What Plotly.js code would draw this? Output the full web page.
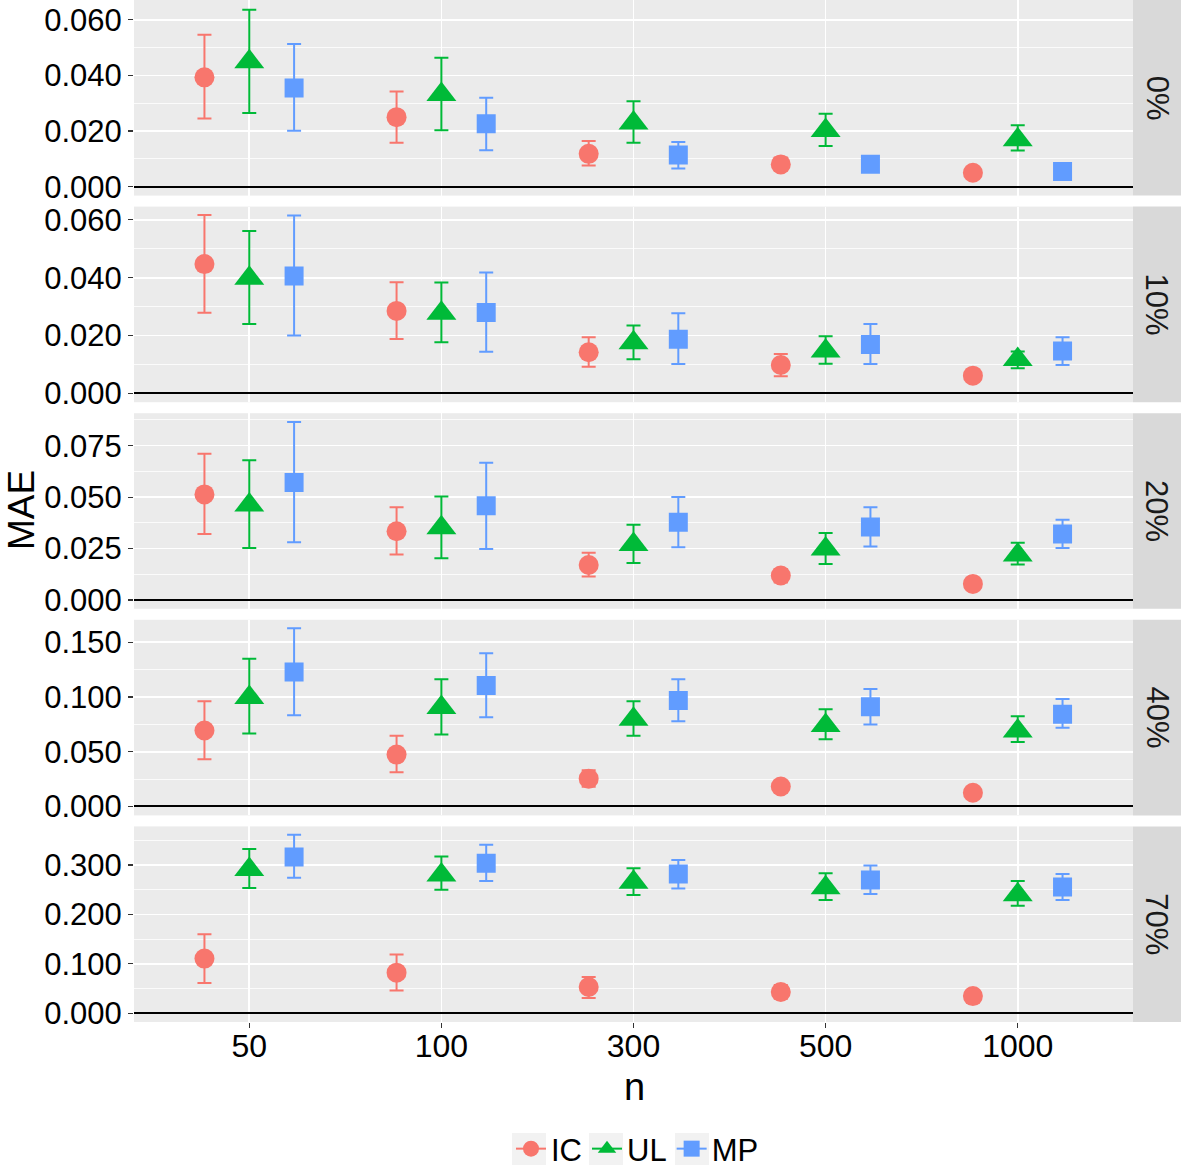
<!DOCTYPE html>
<html>
<head>
<meta charset="utf-8">
<script src="https://cdn.plot.ly/plotly-3.0.1.min.js"></script>
<style>html,body{margin:0;padding:0;background:#fff;}#chart{width:1181px;height:1168px;}</style>
</head>
<body>
<div id="chart"></div>
<script>
// ---- data ----
const nLabels = ['50', '100', '300', '500', '1000'];
const levels = ['0%', '10%', '20%', '40%', '70%'];
const methods = ['IC', 'UL', 'MP'];

// MAE point estimates per level (rows) and n (columns)
const icMae = [
  [0.0393, 0.0250, 0.0118, 0.0080, 0.0050],
  [0.0447, 0.0285, 0.0142, 0.0098, 0.0061],
  [0.0513, 0.0334, 0.0170, 0.0119, 0.0078],
  [0.0694, 0.0474, 0.0254, 0.0183, 0.0125],
  [0.1104, 0.0819, 0.0528, 0.0427, 0.0345]
];
const icLow = [
  [0.0245, 0.0158, 0.0076, 0.0060, 0.0040],
  [0.0279, 0.0188, 0.0092, 0.0059, 0.0050],
  [0.0321, 0.0221, 0.0114, 0.0085, 0.0060],
  [0.0431, 0.0312, 0.0180, 0.0150, 0.0100],
  [0.0609, 0.0460, 0.0305, 0.0290, 0.0250]
];
const icHigh = [
  [0.0546, 0.0342, 0.0164, 0.0105, 0.0062],
  [0.0617, 0.0384, 0.0194, 0.0136, 0.0073],
  [0.0711, 0.0451, 0.0229, 0.0150, 0.0095],
  [0.0962, 0.0645, 0.0330, 0.0220, 0.0155],
  [0.1598, 0.1185, 0.0731, 0.0570, 0.0450]
];
const ulMae = [
  [0.0449, 0.0331, 0.0229, 0.0202, 0.0169],
  [0.0398, 0.0277, 0.0175, 0.0146, 0.0117],
  [0.0461, 0.0351, 0.0269, 0.0248, 0.0218],
  [0.0996, 0.0904, 0.0797, 0.0739, 0.0690],
  [0.2905, 0.2796, 0.2647, 0.2539, 0.2397]
];
const ulLow = [
  [0.0265, 0.0203, 0.0158, 0.0146, 0.0130],
  [0.0240, 0.0177, 0.0118, 0.0102, 0.0087],
  [0.0253, 0.0203, 0.0179, 0.0175, 0.0172],
  [0.0666, 0.0657, 0.0645, 0.0614, 0.0590],
  [0.2532, 0.2498, 0.2390, 0.2288, 0.2173]
];
const ulHigh = [
  [0.0636, 0.0463, 0.0307, 0.0262, 0.0221],
  [0.0562, 0.0383, 0.0235, 0.0197, 0.0145],
  [0.0679, 0.0503, 0.0365, 0.0326, 0.0278],
  [0.1350, 0.1161, 0.0962, 0.0889, 0.0825],
  [0.3324, 0.3169, 0.2932, 0.2830, 0.2674]
];
const mpMae = [
  [0.0355, 0.0226, 0.0114, 0.0081, 0.0055],
  [0.0406, 0.0280, 0.0187, 0.0169, 0.0146],
  [0.0571, 0.0458, 0.0378, 0.0354, 0.0321],
  [0.1228, 0.1106, 0.0969, 0.0910, 0.0843],
  [0.3162, 0.3033, 0.2817, 0.2695, 0.2552]
];
const mpLow = [
  [0.0201, 0.0131, 0.0065, 0.0065, 0.0045],
  [0.0200, 0.0144, 0.0101, 0.0101, 0.0098],
  [0.0281, 0.0248, 0.0256, 0.0260, 0.0253],
  [0.0834, 0.0816, 0.0779, 0.0749, 0.0718],
  [0.2742, 0.2674, 0.2525, 0.2410, 0.2288]
];
const mpHigh = [
  [0.0513, 0.0320, 0.0161, 0.0098, 0.0067],
  [0.0615, 0.0418, 0.0277, 0.0240, 0.0194],
  [0.0865, 0.0667, 0.0500, 0.0451, 0.0390],
  [0.1628, 0.1399, 0.1161, 0.1072, 0.0981],
  [0.3609, 0.3406, 0.3101, 0.2986, 0.2817]
];

// panel axis settings (tick step per level)
const yTickStep = [0.02, 0.02, 0.025, 0.05, 0.1];
const yRanges = [
  [-0.0032, 0.0671],
  [-0.00308, 0.0646],
  [-0.00432, 0.0908],
  [-0.00814, 0.1705],
  [-0.018, 0.378]
];

// ---- styling ----
const colors = {IC: '#F8766D', UL: '#00BA38', MP: '#619CFF'};
const symbols = {IC: 'circle', UL: 'triangle-up', MP: 'square'};
const sizes = {IC: 20, UL: 26, MP: 19};
const dodge = {IC: -0.2333, UL: 0, MP: 0.2333};
const FONT = 'Liberation Sans, Arial, Helvetica, sans-serif';

const W = 1181, H = 1168;
const mL = 134, mR = 48, mT = 0, mB = 146;
const plotH = H - mT - mB;
const plotW = W - mL - mR;
const panelH = 195.6, panelGap = 11;

const dataSets = {
  IC: [icMae, icLow, icHigh],
  UL: [ulMae, ulLow, ulHigh],
  MP: [mpMae, mpLow, mpHigh]
};

const px2x = px => (px - mL) / plotW;
const px2y = py => (plotH - py) / plotH;

const traces = [];
const layout = {
  width: W, height: H,
  margin: {l: mL, r: mR, t: mT, b: mB, pad: 0, autoexpand: false},
  paper_bgcolor: '#FFFFFF',
  plot_bgcolor: '#EBEBEB',
  font: {family: FONT, color: '#000000', size: 32},
  showlegend: true,
  legend: {
    orientation: 'h', xref: 'container', yref: 'container',
    x: 511 / W, xanchor: 'left', y: (H - 1149) / H, yanchor: 'middle',
    font: {family: FONT, size: 31, color: '#000'}, itemsizing: 'trace', traceorder: 'normal',
    bgcolor: 'rgba(0,0,0,0)', itemwidth: 30, tracegroupgap: 0
  },
  xaxis: {
    range: [-0.6, 4.6], tickmode: 'array',
    tickvals: nLabels.map((_, i) => i), ticktext: nLabels,
    showgrid: true, gridcolor: '#FFFFFF', gridwidth: 1.6,
    zeroline: false, showline: false,
    ticks: 'outside', ticklen: 5, tickwidth: 1.2, tickcolor: '#333333',
    ticklabelstandoff: -9,
    tickfont: {family: FONT, size: 32, color: '#000'},
    anchor: 'y5', fixedrange: true, automargin: false
  },
  shapes: [],
  annotations: []
};

levels.forEach((lev, p) => {
  const axName = p === 0 ? 'y' : 'y' + (p + 1);
  const layName = p === 0 ? 'yaxis' : 'yaxis' + (p + 1);
  const topPx = p * (panelH + panelGap);
  const botPx = topPx + panelH;
  const d0 = (plotH - botPx) / plotH, d1 = (plotH - topPx) / plotH;
  layout[layName] = {
    domain: [Math.max(0, d0), Math.min(1, d1)],
    range: yRanges[p],
    dtick: yTickStep[p], tick0: 0, tickformat: '.3f',
    showgrid: true, gridcolor: '#FFFFFF', gridwidth: 1.6,
    minor: {dtick: yTickStep[p] / 2, showgrid: true, gridcolor: '#FFFFFF', gridwidth: 0.8, ticks: ''},
    zeroline: true, zerolinecolor: '#000000', zerolinewidth: 2,
    showline: false,
    ticks: 'outside', ticklen: 5, tickwidth: 1.2, tickcolor: '#333333',
    tickfont: {family: FONT, size: 31, color: '#000'},
    anchor: 'x', fixedrange: true, automargin: false
  };
  // strip
  layout.shapes.push({
    type: 'rect', xref: 'paper', yref: axName + ' domain',
    x0: 1, x1: 1 + mR / plotW, y0: 0, y1: 1,
    fillcolor: '#D9D9D9', line: {width: 0}, layer: 'below'
  });
  layout.annotations.push({
    xref: 'paper', yref: axName + ' domain',
    x: 1 + (mR / 2) / plotW, y: 0.5, text: lev, showarrow: false,
    textangle: 90, font: {family: FONT, size: 31, color: '#1A1A1A'},
    xanchor: 'center', yanchor: 'middle'
  });

  methods.forEach(m => {
    const [mae, lo, hi] = dataSets[m];
    traces.push({
      type: 'scatter', mode: 'markers', name: m, showlegend: false,
      xaxis: 'x', yaxis: axName,
      x: nLabels.map((_, i) => i + dodge[m]),
      y: mae[p],
      error_y: {
        type: 'data', symmetric: false,
        array: mae[p].map((v, i) => hi[p][i] - v),
        arrayminus: mae[p].map((v, i) => v - lo[p][i]),
        color: colors[m], thickness: 2, width: 7
      },
      marker: {color: colors[m], symbol: symbols[m], size: sizes[m], line: {width: 0}},
      hoverinfo: 'skip'
    });
  });
});

// legend key backgrounds (grey boxes, as in ggplot legend keys)
const keyCentres = [529, 606, 692];
keyCentres.forEach(cx => {
  layout.shapes.push({
    type: 'rect', xref: 'paper', yref: 'paper',
    x0: px2x(cx - 17), x1: px2x(cx + 17), y0: px2y(1165), y1: px2y(1133),
    fillcolor: '#F2F2F2', line: {width: 0}, layer: 'above'
  });
});

// legend-only entries
methods.forEach(m => {
  traces.push({
    type: 'scatter', mode: 'lines+markers', name: m, showlegend: true,
    xaxis: 'x', yaxis: 'y5', x: [null], y: [null],
    line: {color: colors[m], width: 2},
    marker: {color: colors[m], symbol: symbols[m], size: sizes[m], line: {width: 0}}
  });
});

// axis titles
layout.annotations.push({
  xref: 'paper', yref: 'paper', x: px2x(634), y: px2y(1087),
  text: 'n', showarrow: false, font: {family: FONT, size: 38, color: '#000'},
  xanchor: 'center', yanchor: 'middle'
});
layout.annotations.push({
  xref: 'paper', yref: 'paper', x: px2x(21), y: px2y(510),
  text: 'MAE', showarrow: false, textangle: -90, font: {family: FONT, size: 37, color: '#000'},
  xanchor: 'center', yanchor: 'middle'
});

Plotly.newPlot('chart', traces, layout, {displayModeBar: false, staticPlot: true});
</script>
</body>
</html>
